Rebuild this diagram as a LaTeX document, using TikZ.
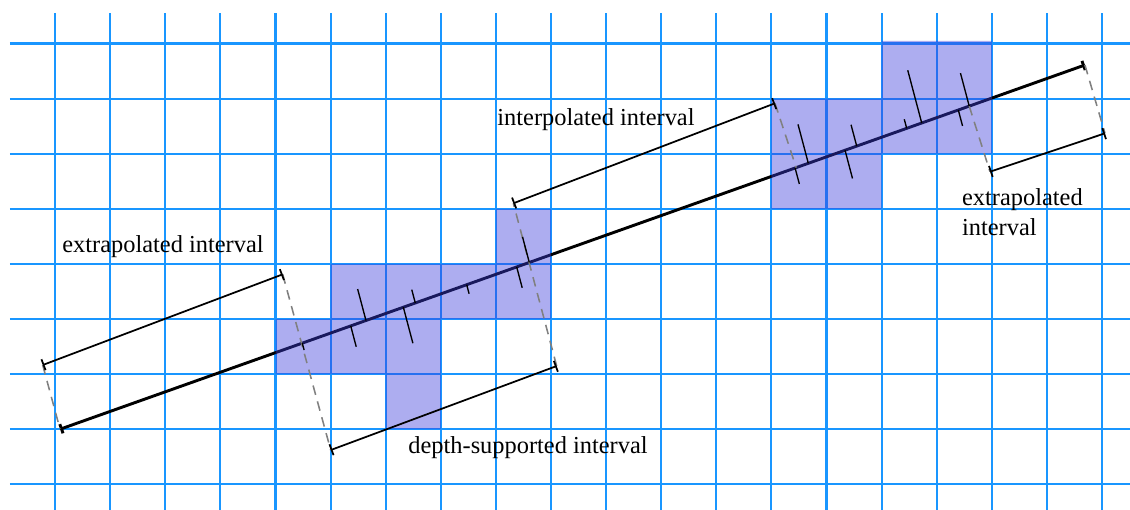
\documentclass[tikz,border=0pt]{standalone}
\usepackage{fontspec}
\setmainfont{Liberation Serif}
\usetikzlibrary{arrows.meta}

\begin{document}
\begin{tikzpicture}[
  gridline/.style={draw={rgb,255:red,25;green,150;blue,255}, line width=1.1pt},
  cellfill/.style={fill={rgb,255:red,60;green,60;blue,220}, fill opacity=0.42},
  fitline/.style={line width=1.5pt, {Bar[width=5pt]}-{Bar[width=5pt]}},
  bracket/.style={line width=0.9pt, {Bar[width=6pt]}-{Bar[width=6pt]}},
  guide/.style={gray, line width=0.8pt, dash pattern=on 5pt off 3.5pt},
  tickmark/.style={line width=0.7pt},
  lbl/.style={inner sep=0pt, anchor=base west, font=\fontsize{12.6}{15.5}\selectfont, align=left}]
  \useasboundingbox (0,-0.466) rectangle (20.508,8.79);
  \foreach \y in {0,...,8} \draw[gridline] (0.18,\y) -- (20.508,\y);
  \foreach \x in {1,...,20} \draw[gridline] (\x,-0.466) -- (\x,8.55);
  \coordinate (s0) at (1.09,1);
  \coordinate (s1) at (19.69,7.61);
  \draw[fitline] (s0) -- (s1);
  \fill[cellfill] (5,2) -- (7,2) -- (7,1) -- (8,1) -- (8,3) -- (10,3) -- (10,5) -- (9,5)
    -- (9,4) -- (6,4) -- (6,3) -- (5,3) -- cycle;
  \fill[cellfill] (14,5) -- (16,5) -- (16,6) -- (18,6) -- (18,8.05) -- (16,8.05) -- (16,7)
    -- (14,7) -- cycle;
  \coordinate (a0) at (0.775,2.165);
  \coordinate (a1) at (5.131,3.811);
  \coordinate (d0) at (6.002,0.622);
  \coordinate (d1) at (10.103,2.147);
  \coordinate (i0) at (9.316,5.100);
  \coordinate (i1) at (14.065,6.915);
  \coordinate (r0) at (17.967,5.673);
  \coordinate (r1) at (20.054,6.370);
  \coordinate (p0) at (14.45,5.748);
  \coordinate (p1) at (17.59,6.864);
  \draw[guide] (a0) -- (s0);
  \draw[guide] (a1) -- (d0);
  \draw[guide] (d1) -- (i0);
  \draw[guide] (i1) -- (p0);
  \draw[guide] (p1) -- (r0);
  \draw[guide] (s1) -- (r1);
  \draw[bracket] (a0) -- (a1);
  \draw[bracket] (d0) -- (d1);
  \draw[bracket] (i0) -- (i1);
  \draw[bracket] (r0) -- (r1);
  \foreach \x/\l in {5.486/-0.13, 6.642/0.59, 6.365/-0.39, 7.537/0.25, 7.32/-0.675,
      8.47/-0.17, 9.606/0.48, 9.377/-0.39, 14.67/0.73, 14.43/-0.3, 15.548/0.4,
      15.336/-0.53, 16.728/0.99, 16.455/0.17, 17.59/0.62, 17.392/-0.3}
    \draw[tickmark] ({\x},{1+0.3554*(\x-1.09)}) -- ++({-0.2562*(\l)},{0.9666*(\l)});
  \node[lbl] (extl) at (1.125,4.216) {extrapolated interval};
  \node[lbl] (intl) at (9.02,6.52) {interpolated interval};
  \node[lbl] (depl) at (7.405,0.568) {depth-supported interval};
  \node[lbl] (extr) at (17.454,4.524) {extrapolated\\interval};
\end{tikzpicture}
\end{document}
